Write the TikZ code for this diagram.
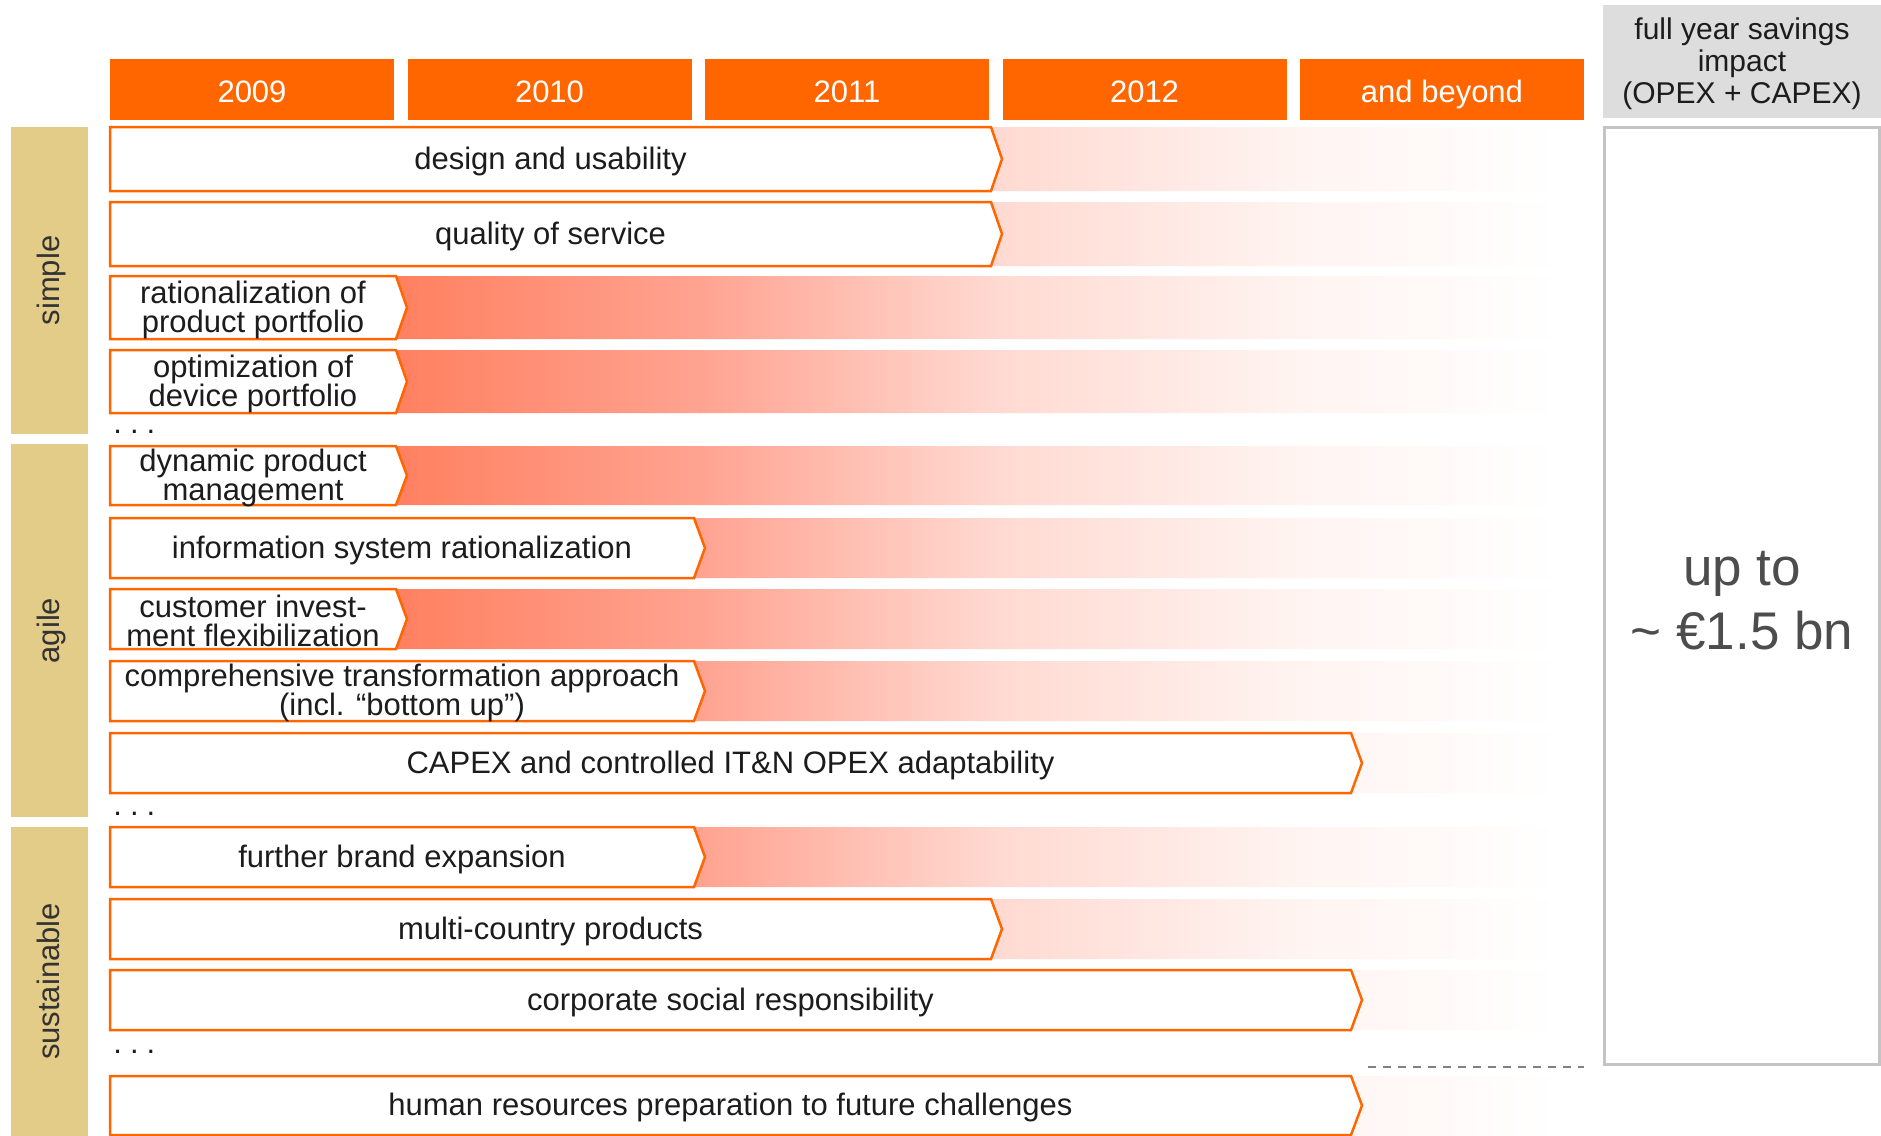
\documentclass[tikz,border=0pt]{standalone}
\usepackage{fontspec}
\setmainfont{Liberation Sans}
\usepackage{tikz}
\usetikzlibrary{arrows,shapes}
\definecolor{tOrange}{RGB}{255,102,0}
\definecolor{tSand}{RGB}{227,204,136}
\definecolor{tGrey}{RGB}{221,221,221}
\definecolor{tFrame}{RGB}{196,196,196}
\definecolor{tDark}{RGB}{77,77,77}
\definecolor{tInk}{RGB}{28,28,28}
\definecolor{fadeA}{RGB}{255,128,96}
\definecolor{fadeB}{RGB}{255,163,145}
\definecolor{fadeC}{RGB}{255,218,210}
\definecolor{fadeD}{RGB}{255,244,241}
\tikzstyle{yearbox}=[fill=tOrange,text=white,minimum width=142pt,minimum height=30.5pt,inner sep=0pt,
  text height=13.5pt,text depth=0.8pt,font=\fontsize{15.5}{16}\selectfont]
\tikzstyle{pillar}=[fill=tSand,text=black!80,rotate=90,minimum height=38.5pt,inner sep=0pt,
  text height=13.5pt,text depth=3.3pt,font=\fontsize{15.5}{16}\selectfont]
\tikzstyle{lever}=[draw=tOrange,fill=white,line width=1.25pt,line join=miter]
\tikzstyle{levertext}=[text=tInk,align=center,inner sep=0pt,yshift=-1pt,font=\fontsize{15.5}{14.5}\selectfont]
\tikzstyle{moredots}=[anchor=base west,inner sep=0pt,text=tInk,font=\fontsize{15.5}{16}\selectfont]

\begin{document}
\begin{tikzpicture}[x=0.5pt,y=-0.5pt]
  \fill[white] (0,0) rectangle (1881,1136);
  \useasboundingbox (0,0) rectangle (1881,1136);

  \foreach \yr [count=\i from 0] in {2009,2010,2011,2012,and beyond}
    \node[yearbox] (year\i) at (252+297.5*\i,89.5) {\yr};

  \node[pillar,minimum width=153.5pt] (simple) at (49.5,280.5) {simple};
  \node[pillar,minimum width=186.5pt] (agile) at (49.5,630.5) {agile};
  \node[pillar,minimum width=154.5pt] (sustainable) at (49.5,981.5) {sustainable};

  % fading bands behind the levers
  \begin{scope}
    \clip foreach \t/\b in {127/191,202/266,276/339,350/413,446/505,518/578,589/649,
                            661/721,733/793,827/887,899/959,970/1030,1076/1136}
      {(396,\t) rectangle (1560,\b)};
    \shade[left color=fadeA,right color=fadeB] (396,120) rectangle (701,1136);
    \shade[left color=fadeB,right color=fadeC] (700,120) rectangle (1001,1136);
    \shade[left color=fadeC,right color=fadeD] (1000,120) rectangle (1301,1136);
    \shade[left color=fadeD,right color=white] (1300,120) rectangle (1560,1136);
  \end{scope}

  \foreach \nm/\t/\b/\e/\txt in {
      design/127/191/991/{design and usability},
      quality/202/266/991/{quality of service},
      products/276/339/396/{rationalization of\\product portfolio},
      devices/350/413/396/{optimization of\\device portfolio},
      dynamic/446/505/396/{dynamic product\\management},
      itsys/518/578/694/{information system rationalization},
      invest/589/649/396/{customer invest-\\ment flexibilization},
      transform/661/721/694/{comprehensive transformation approach\\(incl. “bottom up”)},
      capex/733/793/1351/{CAPEX and controlled IT\&N OPEX adaptability},
      brand/827/887/694/{further brand expansion},
      country/899/959/991/{multi-country products},
      csr/970/1030/1351/{corporate social responsibility},
      hr/1076/1135/1351/{human resources preparation to future challenges}}
  {
    \draw[lever] (110,\t) -- (\e,\t) -- ({\e+11},{(\t+\b)/2}) -- (\e,\b) -- (110,\b) -- cycle;
    \node[levertext] (\nm) at ({(110+\e)/2},{(\t+\b)/2}) {\txt};
  }

  \node[moredots] (moreSimple) at (113,433) {.\kern4pt.\kern4pt.};
  \node[moredots] (moreAgile) at (113,815) {.\kern4pt.\kern4pt.};
  \node[moredots] (moreSust) at (113,1053) {.\kern4pt.\kern4pt.};

  \fill[tGrey] (1603,5) rectangle (1881,118);
  \node[align=center,inner sep=0pt,text=tInk,font=\fontsize{15}{16}\selectfont] (impact)
        at (1742,64) {full year savings\\impact\\(OPEX + CAPEX)};
  \draw[tFrame,line width=1.5pt] (1604.5,127.5) rectangle (1879.5,1064.5);
  \node[align=center,text=tDark,font=\fontsize{26.5}{32}\selectfont] (savings) at (1742,601)
        {up to\\\textasciitilde{} €1.5 bn};

  \coordinate (gapL) at (1368,1067);
  \coordinate (gapR) at (1584,1067);
  \draw[gray,line width=1.4pt,dash pattern=on 4pt off 3.5pt] (gapL) -- (gapR);
\end{tikzpicture}
\end{document}
